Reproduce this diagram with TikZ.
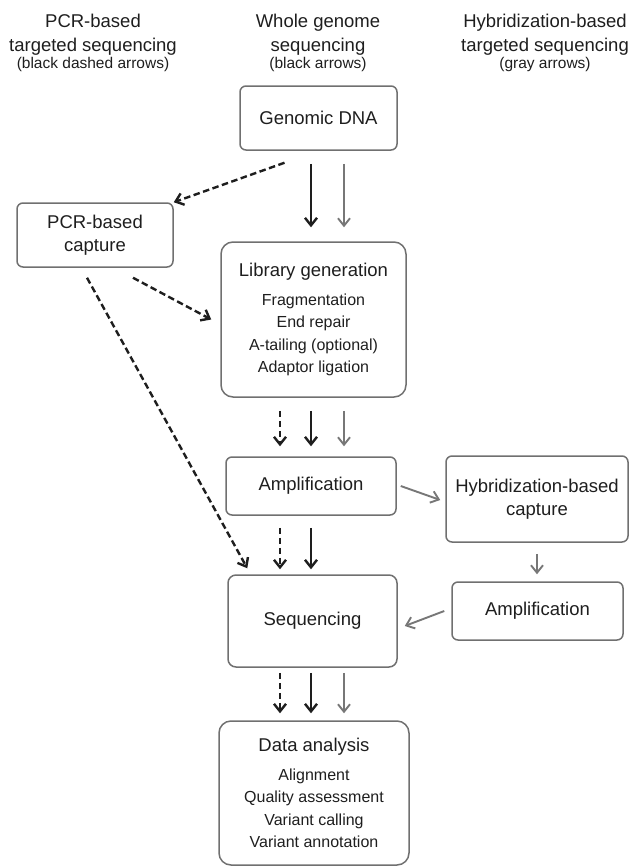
\documentclass[tikz,border=0pt]{standalone}
\usepackage{fontspec}
\setmainfont{Liberation Sans}
\usetikzlibrary{arrows.meta,calc}
\definecolor{boxgray}{HTML}{707070}
\definecolor{arrowgray}{HTML}{777777}
\definecolor{ink}{HTML}{1E1E1E}
\newcommand{\subsize}{\fontsize{16}{22.5}\selectfont}
\newcommand{\notesize}{\fontsize{15.5}{18}\selectfont}
\tikzset{
    every picture/.style={line join=round},
    flowbox/.style={draw=boxgray,line width=1.5pt,rounded corners=6pt,
      inner sep=0pt,text=ink,align=center,
      font=\fontsize{18.5}{22.5}\selectfont},
    bigbox/.style={flowbox,rounded corners=12pt},
    header/.style={text=ink,align=center,font=\fontsize{18.5}{24}\selectfont},
    blackarrow/.style={-{Straight Barb[length=7.5pt,width=12pt]},draw=ink,
      line width=2.4pt},
    grayarrow/.style={-{Straight Barb[length=7.5pt,width=12pt]},draw=arrowgray,
      line width=1.9pt},
    dasharrow/.style={blackarrow,dash pattern=on 6.5pt off 3.5pt}
}
\begin{document}
\begin{tikzpicture}[x=1pt,y=-1pt]
  \useasboundingbox (0,0) rectangle (630,868);
  % column headers
  \node[header] (hpcr) at (93,43) {PCR-based\\targeted sequencing\\[-7.5pt]{\notesize(black dashed arrows)}};
  \node[header] (hwgs) at (318,43) {Whole genome\\sequencing\\[-7.5pt]{\notesize(black arrows)}};
  \node[header] (hhyb) at (545,43) {Hybridization-based\\targeted sequencing\\[-7.5pt]{\notesize(gray arrows)}};
  % boxes
  \node[flowbox,minimum width=157pt,minimum height=64pt] (gdna) at (318.5,118) {Genomic DNA};
  \node[flowbox,minimum width=156pt,minimum height=64pt] (pcr) at (95,235) {PCR-based\\capture};
  \node[bigbox,minimum width=185pt,minimum height=155pt] (lib) at (313.5,319.5)
    {Library generation\\[6pt]\subsize Fragmentation\\\subsize End repair\\\subsize A-tailing (optional)\\\subsize Adaptor ligation};
  \node[flowbox,minimum width=170pt,minimum height=58pt] (amp) at (311,486) {Amplification};
  \node[flowbox,minimum width=182pt,minimum height=86pt] (hyb) at (537,499) {Hybridization-based\\capture};
  \node[flowbox,minimum width=171pt,minimum height=58pt] (amp2) at (537.5,611) {Amplification};
  \node[flowbox,rounded corners=8pt,minimum width=169pt,minimum height=92pt] (seq) at (312.5,621) {Sequencing};
  \node[bigbox,minimum width=190pt,minimum height=144pt] (data) at (314,793)
    {Data analysis\\[6pt]\subsize Alignment\\\subsize Quality assessment\\\subsize Variant calling\\\subsize Variant annotation};
  % arrow columns
  \coordinate (xd) at (280,0);
  \coordinate (xb) at (311,0);
  \coordinate (xg) at (344,0);
  \foreach \c/\s in {xb/blackarrow,xg/grayarrow}
    \draw[\s,shorten <=13pt,shorten >=14pt] (gdna.south -| \c) -- (lib.north -| \c);
  \foreach \c/\s in {xd/dasharrow,xb/blackarrow,xg/grayarrow}
    \draw[\s,shorten <=13pt,shorten >=10pt] (lib.south -| \c) -- (amp.north -| \c);
  \foreach \c/\s in {xd/dasharrow,xb/blackarrow}
    \draw[\s,shorten <=12pt,shorten >=5pt] (amp.south -| \c) -- (seq.north -| \c);
  \foreach \c/\s in {xd/dasharrow,xb/blackarrow,xg/grayarrow}
    \draw[\s,shorten <=5pt,shorten >=7pt] (seq.south -| \c) -- (data.north -| \c);
  % PCR branch
  \draw[dasharrow] ([xshift=-34pt,yshift=-12pt]gdna.south) -- (pcr.north east);
  \draw[dasharrow] ([xshift=38pt,yshift=-10pt]pcr.south) -- ([xshift=-9pt]lib.west);
  \draw[dasharrow] ([xshift=-8pt,yshift=-10pt]pcr.south) -- ([xshift=20pt,yshift=6pt]seq.north west);
  % hybridization branch
  \draw[grayarrow] ([xshift=4pt]amp.east) -- ([xshift=-5pt,yshift=-1pt]hyb.west);
  \draw[grayarrow,shorten <=11pt,shorten >=7pt] (hyb.south) -- (hyb.south |- amp2.north);
  \draw[grayarrow] ([xshift=-7pt]amp2.west) -- ([xshift=7pt,yshift=-5pt]seq.east);
\end{tikzpicture}
\end{document}
